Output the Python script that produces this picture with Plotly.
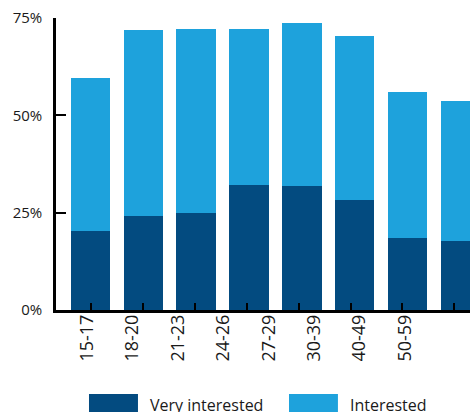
import plotly.graph_objects as go

# Share of respondents interested, by age group (%)
age_groups = ["15-17", "18-20", "21-23", "24-26", "27-29", "30-39", "40-49", "50-59"]
very_interested = [20.3, 24.1, 25.0, 32.1, 31.8, 28.3, 18.5, 17.7]
interested = [39.2, 47.7, 47.1, 40.0, 41.8, 42.2, 37.4, 35.9]
y_ticks = [0, 25, 50, 75]
y_tick_text = ["0%", "25%", "50%", "75%"]

DARK = "#034b80"
LIGHT = "#1ea2dc"
FONT = "Open Sans"
positions = list(range(len(age_groups)))

fig = go.Figure()
# bars live on an overlay axis so the main axis tick marks sit on top of them
fig.add_trace(go.Bar(x=positions, y=very_interested, name="Very interested",
                     xaxis="x2", marker=dict(color=DARK, line=dict(width=0)),
                     width=0.75, showlegend=False))
fig.add_trace(go.Bar(x=positions, y=interested, name="Interested",
                     xaxis="x2", marker=dict(color=LIGHT, line=dict(width=0)),
                     width=0.75, showlegend=False))
# helper traces so the tick-mark axis and the label axis are drawn
fig.add_trace(go.Scatter(x=positions, y=[None] * len(positions),
                         showlegend=False, hoverinfo="skip"))
fig.add_trace(go.Scatter(x=positions, y=[None] * len(positions), xaxis="x3",
                         showlegend=False, hoverinfo="skip"))

fig.update_layout(
    width=470, height=412,
    margin=dict(l=56, r=0, t=18, b=102),
    plot_bgcolor="white", paper_bgcolor="white",
    barmode="stack",
    font=dict(family=FONT, color="#1a1a1a"),
    # tick marks along the bottom
    xaxis=dict(range=[-0.674, 7.302], tickmode="array", tickvals=positions,
               ticks="inside", ticklen=7, tickwidth=2, tickcolor="black",
               layer="above traces",
               showticklabels=False, showline=True, linecolor="black", linewidth=2.5,
               showgrid=False, zeroline=False),
    # bar positions
    xaxis2=dict(overlaying="x", anchor="y", range=[-0.653, 7.183],
                showticklabels=False, ticks="", showline=False,
                showgrid=False, zeroline=False),
    # category labels
    xaxis3=dict(overlaying="x", anchor="y", range=[-0.682, 8.43],
                tickmode="array", tickvals=positions, ticktext=age_groups,
                tickangle=-90, ticks="", showline=False, showgrid=False,
                zeroline=False, tickfont=dict(family=FONT, size=18, color="#1a1a1a")),
    yaxis=dict(range=[0, 75], tickmode="array", tickvals=y_ticks, ticktext=y_tick_text,
               ticks="inside", ticklen=10, tickwidth=2, tickcolor="black",
               showline=True, linecolor="black", linewidth=2.5,
               showgrid=False, zeroline=False, ticklabelstandoff=8,
               tickfont=dict(family=FONT, size=15, color="#1a1a1a")),
)

# legend drawn below the axis
legend_items = [("Very interested", DARK, 0.0797, 0.198, 0.222),
                ("Interested", LIGHT, 0.5628, 0.681, 0.705)]
for label, color, x0, x1, xt in legend_items:
    fig.add_shape(type="rect", xref="paper", yref="paper", x0=x0, x1=x1,
                  y0=-0.37, y1=-0.2877, fillcolor=color, line=dict(width=0))
    fig.add_annotation(xref="paper", yref="paper", x=xt, y=-0.281,
                       xanchor="left", yanchor="top", showarrow=False, text=label,
                       font=dict(family=FONT, size=16, color="#1a1a1a"))

fig.write_html("out.html")
